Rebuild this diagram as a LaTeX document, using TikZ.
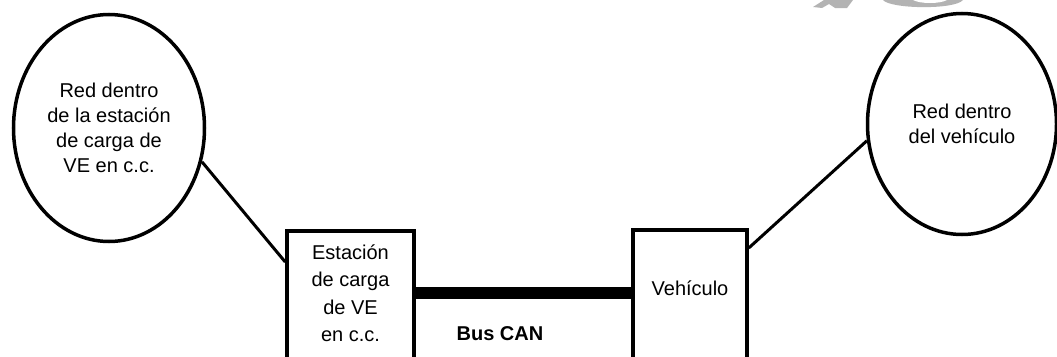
\documentclass[tikz,border=0pt]{standalone}
\usepackage{fontspec}
\setmainfont{Liberation Sans}
\usetikzlibrary{shapes.geometric,calc}
\definecolor{wmgray}{HTML}{B3B3B3}
\tikzset{
  netell/.style={draw, ellipse, line width=3.5pt, inner sep=0pt, align=center,
    font=\fontsize{20}{25}\selectfont},
  box/.style={draw, rectangle, line width=3.5pt, inner sep=0pt},
  boxtext/.style={align=center, font=\fontsize{20}{27.5}\selectfont, inner sep=0pt},
  conn/.style={line width=3pt},
  bus/.style={line width=12pt},
}
\begin{document}
\begin{tikzpicture}[x=1pt,y=-1pt]
\useasboundingbox (0,0) rectangle (1057,356);
\clip (0,0) rectangle (1057,356);
% watermark fragments
\fill[wmgray] (813,7) -- (824,0) -- (853,0) -- (847,8) -- (835,8) -- (829,4) -- (822,8) -- cycle;
\fill[wmgray] (883,0) .. controls (890,9) and (955,10) .. (963,0) -- cycle;
\fill[white] (913,0) .. controls (920,4) and (940,4) .. (947,0) -- cycle;
% networks
\node[netell, minimum width=191pt, minimum height=227pt] (lnet) at (109,128)
  {Red dentro\\de la estación\\de carga de\\VE en c.c.};
\node[netell, minimum width=189pt, minimum height=221pt] (rnet) at (962,124)
  {Red dentro\\del vehículo};
% boxes
\node[box, minimum width=127pt, minimum height=160pt, anchor=north] (box1) at (350.5,229) {};
\node[box, minimum width=114pt, minimum height=160pt, anchor=north] (box2) at (690,228) {};
\node[boxtext] (t1) at (350.5,293) {Estación\\de carga\\de VE\\en c.c.};
\node[boxtext] (t2) at (690,288) {Vehículo};
% connectors
\draw[conn] (lnet.-20) -- ([yshift=-33pt]box1.north west);
\draw[conn] ([yshift=-20pt]box2.north east) -- (rnet.190);
\coordinate (busy) at (500,292.5);
\draw[bus] (box1.east |- busy) -- (box2.west |- busy);
\node[font=\fontsize{20}{25}\selectfont\bfseries, inner sep=0pt] (buslbl) at (500,334) {Bus CAN};
\end{tikzpicture}
\end{document}
